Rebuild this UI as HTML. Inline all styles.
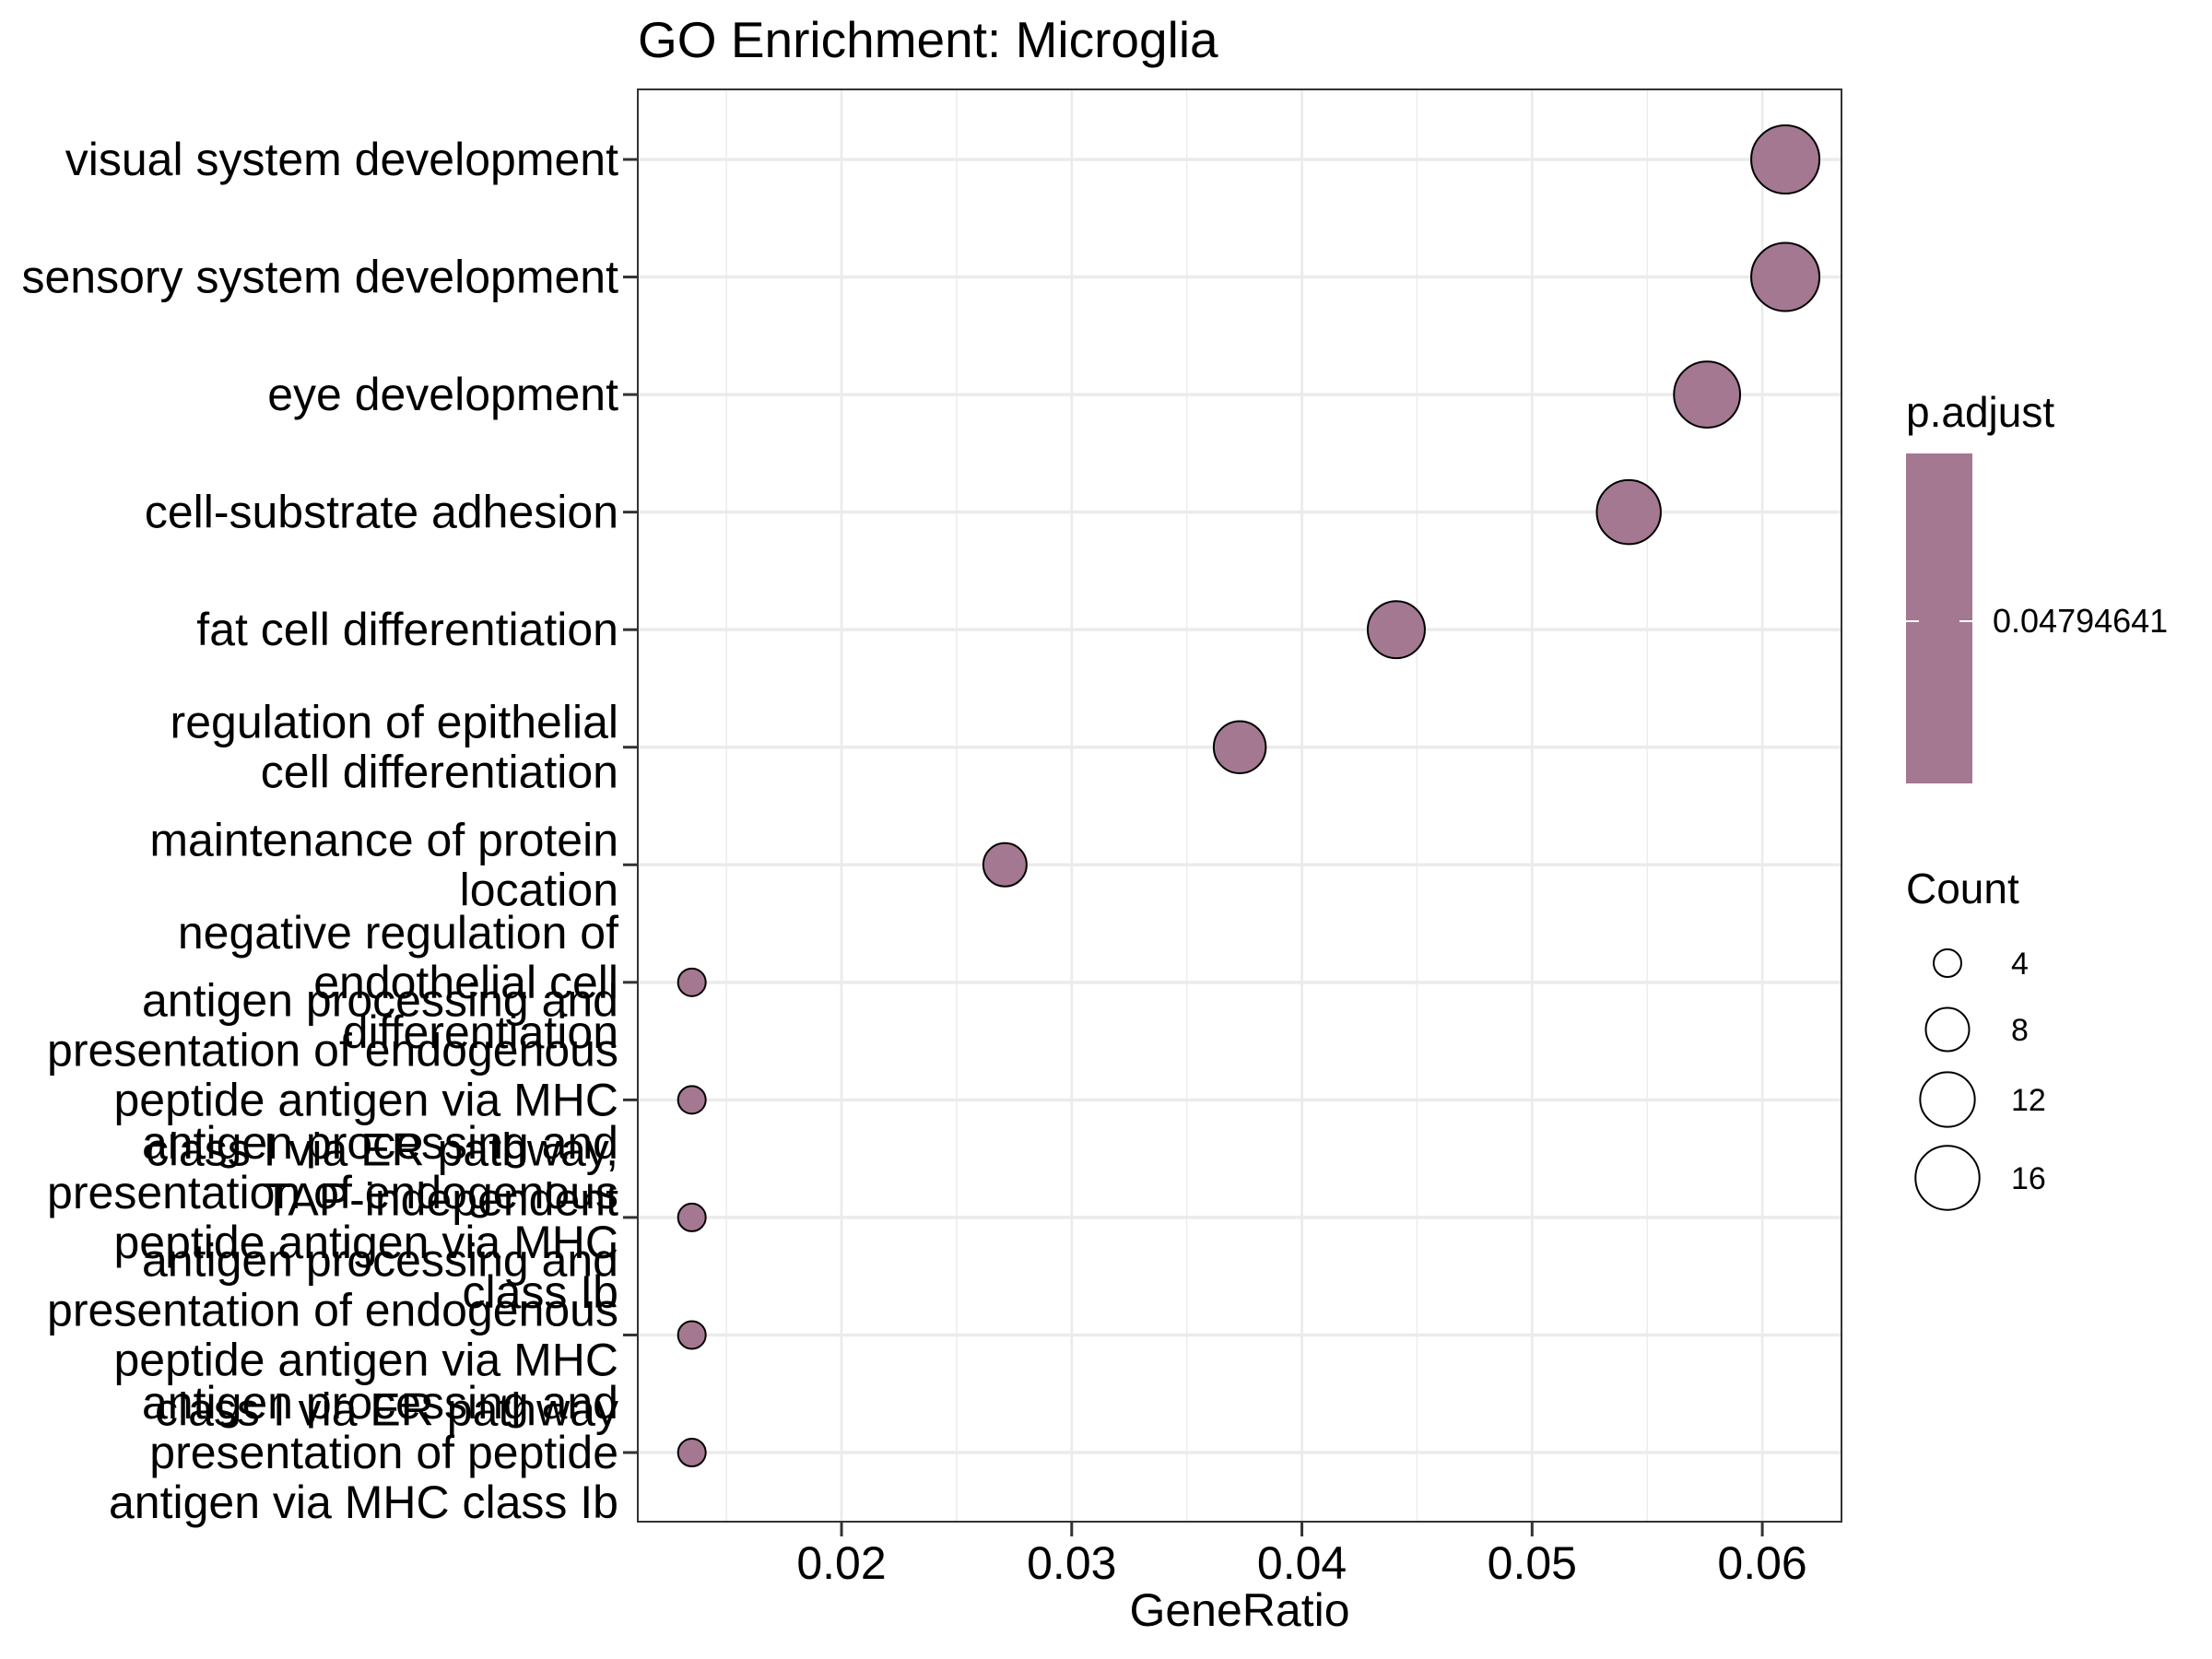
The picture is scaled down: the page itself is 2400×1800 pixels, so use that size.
<!DOCTYPE html>
<html><head><meta charset="utf-8"><style>
html,body{margin:0;padding:0;background:#fff}
svg{display:block;font-family:"Liberation Sans",Arial,sans-serif}
</style></head><body>
<svg id="chart" width="2400" height="1800" viewBox="0 0 2400 1800" xmlns="http://www.w3.org/2000/svg">
<rect width="2400" height="1800" fill="#fff"/>
<text x="692" y="62" font-size="55" fill="#000">GO Enrichment: Microglia</text>
<g id="grid"></g>
<g id="points"></g>
<rect x="692" y="97" width="1306" height="1554" fill="none" stroke="#333" stroke-width="2"/>
<g id="yaxis"></g>
<g id="xaxis"></g>
<text x="1345" y="1764" font-size="50" text-anchor="middle">GeneRatio</text>
<g id="legend">
<text x="2068" y="463" font-size="46">p.adjust</text>
<rect x="2068" y="492" width="72" height="358" fill="#A47890"/>
<line x1="2068" y1="674" x2="2082" y2="674" stroke="#fff" stroke-width="2"/>
<line x1="2126" y1="674" x2="2140" y2="674" stroke="#fff" stroke-width="2"/>
<text x="2162" y="686" font-size="36">0.04794641</text>
<text x="2068" y="980" font-size="46">Count</text>
<g id="sizeLegend"></g>
</g>
</svg>
<script>
const categories = [
 ["visual system development"],
 ["sensory system development"],
 ["eye development"],
 ["cell-substrate adhesion"],
 ["fat cell differentiation"],
 ["regulation of epithelial","cell differentiation"],
 ["maintenance of protein","location"],
 ["negative regulation of","endothelial cell","differentiation"],
 ["antigen processing and","presentation of endogenous","peptide antigen via MHC","class I via ER pathway,","TAP-independent"],
 ["antigen processing and","presentation of endogenous","peptide antigen via MHC","class Ib"],
 ["antigen processing and","presentation of endogenous","peptide antigen via MHC","class I via ER pathway"],
 ["antigen processing and","presentation of peptide","antigen via MHC class Ib"]
];
const geneRatio = [0.0610,0.0610,0.0576,0.0542,0.0441,0.0373,0.0271,0.0135,0.0135,0.0135,0.0135,0.0135];
const counts = [18,18,17,16,13,11,8,4,4,4,4,4];
const xTicks = [0.02,0.03,0.04,0.05,0.06];
const xMinor = [0.015,0.025,0.035,0.045,0.055];
const xTickLabels = ["0.02","0.03","0.04","0.05","0.06"];
const sizeBreaks = [4,8,12,16];

const NS="http://www.w3.org/2000/svg";
const PL=692,PR=1998,PT=97,PB=1651;
const xDomain=[0.01115,0.06344];
function x(v){return PL+(v-xDomain[0])/(xDomain[1]-xDomain[0])*(PR-PL);}
const rowStep=(1576-173)/11;
function y(i){return 173+i*rowStep;}
const cMin=4,cMax=18;
function r(c){const d=Math.sqrt(900+(c-cMin)/(cMax-cMin)*(5476-900));return d/2;}
function mk(tag,attrs,parent){const e=document.createElementNS(NS,tag);for(const k in attrs)e.setAttribute(k,attrs[k]);parent.appendChild(e);return e;}

const grid=document.getElementById('grid');
xMinor.forEach(v=>{
 const l=mk('line',{x1:x(v),x2:x(v),y1:PT,y2:PB,stroke:'#EBEBEB','stroke-width':1.4},grid);
 
 
});
xTicks.forEach(v=>{
 const l=mk('line',{x1:x(v),x2:x(v),y1:PT,y2:PB,stroke:'#EBEBEB','stroke-width':2.7},grid);
 
 
});
categories.forEach((c,i)=>{
 const l=mk('line',{x1:PL,x2:PR,y1:y(i),y2:y(i),stroke:'#EBEBEB','stroke-width':3.5},grid);
 
 
});

const pts=document.getElementById('points');
geneRatio.forEach((g,i)=>{
 const c=mk('circle',{cx:x(g),cy:y(i),r:r(counts[i]),fill:'#A47890',stroke:'#000','stroke-width':2},pts);
 
 
});

const ya=document.getElementById('yaxis');
const lh=54;
categories.forEach((lines,i)=>{
 const t=mk('line',{x1:676,x2:692,y1:y(i),y2:y(i),stroke:'#333','stroke-width':3},ya);
 
 
 const tx=mk('text',{x:671,'font-size':50,'text-anchor':'end',fill:'#000'},ya);
 
 
 const n=lines.length;
 lines.forEach((s,j)=>{
  const ts=mk('tspan',{x:671,y:y(i)+(j-(n-1)/2)*lh+17},tx);
  ts.textContent=s;
 });
});

const xa=document.getElementById('xaxis');
xTicks.forEach((v,i)=>{
 const t=mk('line',{x1:x(v),x2:x(v),y1:PB,y2:PB+16,stroke:'#333','stroke-width':3},xa);
 
 
 const tx=mk('text',{x:x(v),y:1713,'font-size':50,'text-anchor':'middle',fill:'#000'},xa);
 
 
 tx.textContent=xTickLabels[i];
});

const sl=document.getElementById('sizeLegend');
const legY=[1045,1117,1193,1278];
sizeBreaks.forEach((b,i)=>{
 const c=mk('circle',{cx:2113,cy:legY[i],r:r(b),fill:'none',stroke:'#000','stroke-width':2},sl);
 
 
 const t=mk('text',{x:2182,y:legY[i]+12,'font-size':34},sl);
 
 
 t.textContent=String(b);
});
</script>
</body></html>
